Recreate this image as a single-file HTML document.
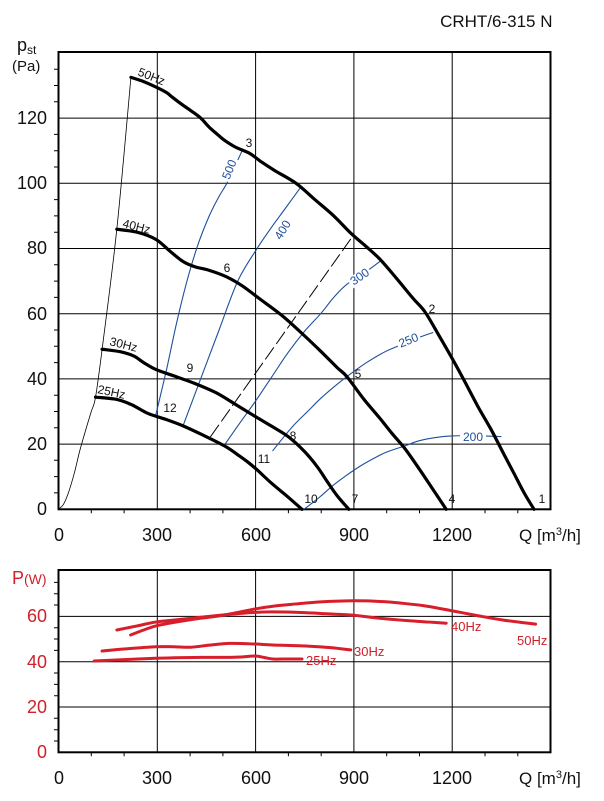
<!DOCTYPE html>
<html><head><meta charset="utf-8"><style>
html,body{margin:0;padding:0;background:#fff;}
svg{display:block;font-family:"Liberation Sans",Arial,sans-serif;}
.c{fill:none;stroke-linejoin:round;stroke-linecap:round;vector-effect:non-scaling-stroke;}
</style></head><body>
<svg id="s" width="604" height="801" viewBox="0 0 604 801" xmlns="http://www.w3.org/2000/svg">
<rect width="604" height="801" fill="#fff"/>
<text x="552.5" y="27" font-size="17" text-anchor="end" fill="#111">CRHT/6-315 N</text>
<text x="17" y="51" font-size="18" fill="#111">p<tspan font-size="12" dy="3">st</tspan></text>
<text x="12" y="71" font-size="15" fill="#111">(Pa)</text>

<g stroke="#000" stroke-width="1">
<line x1="157.3" y1="52" x2="157.3" y2="509.3"/><line x1="255.6" y1="52" x2="255.6" y2="509.3"/>
<line x1="353.9" y1="52" x2="353.9" y2="509.3"/><line x1="452.2" y1="52" x2="452.2" y2="509.3"/>
<line x1="58.5" y1="444.1" x2="550.5" y2="444.1"/><line x1="58.5" y1="378.9" x2="550.5" y2="378.9"/>
<line x1="58.5" y1="313.7" x2="550.5" y2="313.7"/><line x1="58.5" y1="248.5" x2="550.5" y2="248.5"/>
<line x1="58.5" y1="183.3" x2="550.5" y2="183.3"/><line x1="58.5" y1="118.1" x2="550.5" y2="118.1"/>
</g>
<rect x="58.5" y="52" width="492" height="457.3" fill="none" stroke="#000" stroke-width="2"/>
<g stroke="#000" stroke-width="1">
<path d="M54 492.9H58.5M54 476.6H58.5M54 460.3H58.5M54 427.8H58.5M54 411.5H58.5M54 395.2H58.5M54 362.6H58.5M54 346.3H58.5M54 330H58.5M54 297.4H58.5M54 281.1H58.5M54 264.8H58.5M54 232.2H58.5M54 215.9H58.5M54 199.6H58.5M54 167H58.5M54 150.7H58.5M54 134.4H58.5M54 101.8H58.5M54 85.5H58.5M54 69.2H58.5"/>
<path d="M91.3 509.3v4M124.1 509.3v4M190.1 509.3v4M222.9 509.3v4M288.4 509.3v4M321.2 509.3v4M386.7 509.3v4M419.5 509.3v4M485 509.3v4M517.8 509.3v4"/>
</g>
<g font-size="18" fill="#111" text-anchor="end">
<text x="47" y="515">0</text><text x="47" y="450">20</text><text x="47" y="385">40</text><text x="47" y="320">60</text><text x="47" y="254">80</text><text x="47" y="189">100</text><text x="47" y="124">120</text>
</g>
<g font-size="18" fill="#111" text-anchor="middle">
<text x="59" y="541">0</text><text x="157" y="541">300</text><text x="256" y="541">600</text><text x="354" y="541">900</text><text x="452" y="541">1200</text>
</g>
<text x="519" y="541" font-size="17" fill="#111">Q [m<tspan font-size="11" dy="-6">3</tspan><tspan dy="6">/h]</tspan></text>

<g transform="translate(58.5,509.3) scale(0.3277,-3.26)">
<polyline class="c" stroke="#000" stroke-width="0.8" points="0,0 15,1.5 30,5 48,11 65,18 85,25 100,30 113,34.4 133,49 178,86 221,132.5"/>
<polyline class="c" stroke="#000" stroke-width="1" stroke-dasharray="14,5" points="464,22.3 898,83.8"/>
<g stroke="#1f4f9a" stroke-width="1.1">
<polyline class="c" points="297,29 330,43 360,57 392,70 425,81 460,90 490,96 511,99.5 535,104.5 559,109.7"/>
<polyline class="c" points="380,25.6 430,39 490,55 547,70 606,80 650,86.5 690,92 737,98.5"/>
<polyline class="c" points="505,19.5 550,26 600,33 650,40.5 700,48 750,54.5 800,60 840,65 880,69 940,73 987,76.5"/>
<polyline class="c" points="654,18 690,22.5 720,26 760,30 800,34 840,37.5 880,40.7 940,45 1000,48.5 1060,51 1100,52.7 1142,54.2"/>
<polyline class="c" points="749,0 775,2 800,4 840,7.5 880,10.5 920,13.2 960,15.5 1000,17.5 1058,19.5 1100,21 1150,22 1200,22.5 1250,22.6 1300,22.5 1350,22.3"/>
</g>
<g stroke="#000" stroke-width="3.2">
<polyline class="c" points="221,132.5 260,131.2 300,129.4 330,127.8 345,126.6 375,124.3 405,122.2 434,120 460,117.2 485,115 505,113.3 540,111.1 583,109.2 620,106.5 660,103.9 725,100 780,95.2 840,90 892,84.7 940,80.5 981,76.7 1030,71 1082,64.7 1118,60.6 1160,53.5 1200,46.5 1237,39.7 1280,31.5 1320,24.5 1356,17.5 1390,11 1420,5.2 1451,0"/>
<polyline class="c" points="178,85.9 240,85 297,82.8 340,79.2 380,76 416,74.4 460,73.3 511,71.4 560,68.6 612,64.7 680,59.6 737,54.5 800,48.5 850,43.5 880,40.7 930,34 980,28 1020,23 1058,18.5 1100,12.5 1140,6.5 1183,0"/>
<polyline class="c" points="133,49.1 190,48.3 230,47 260,45 297,42.9 350,41 416,38.6 480,35.8 535,32.5 600,28.5 650,25.5 701,22.3 750,17.8 790,13 820,8.5 850,4.2 886,0"/>
<polyline class="c" points="113,34.4 178,33.7 225,32 273,29.4 330,27.5 380,25.6 440,22.8 511,19.2 550,16.5 580,14.3 606,12.1 650,8 700,3.8 743,0"/>
</g>
</g>

<g font-size="12" fill="#111" text-anchor="middle">
<text x="542" y="503">1</text><text x="452" y="503">4</text><text x="355" y="503">7</text><text x="311" y="503">10</text>
<text x="432" y="313">2</text><text x="358" y="378">5</text><text x="293" y="440">8</text><text x="264" y="463">11</text>
<text x="190" y="372">9</text><text x="170" y="412">12</text><text x="249" y="147">3</text><text x="227" y="272">6</text>
</g>
<g font-size="12" fill="#111">
<text transform="translate(137,75) rotate(22)">50Hz</text>
<text transform="translate(122,227) rotate(14)">40Hz</text>
<text transform="translate(109,345) rotate(14)">30Hz</text>
<text transform="translate(97,393) rotate(12)">25Hz</text>
</g>
<g font-size="12" fill="#1f4f9a" text-anchor="middle">
<g transform="translate(233,171) rotate(-68)"><rect x="-12" y="-9" width="24" height="11" fill="#fff"/><text x="0" y="0">500</text></g>
<g transform="translate(286,232) rotate(-58)"><rect x="-12" y="-9" width="24" height="11" fill="#fff"/><text x="0" y="0">400</text></g>
<g transform="translate(362,280) rotate(-35)"><rect x="-12" y="-9" width="24" height="11" fill="#fff"/><text x="0" y="0">300</text></g>
<g transform="translate(410,344) rotate(-22)"><rect x="-12" y="-9" width="24" height="11" fill="#fff"/><text x="0" y="0">250</text></g>
<g transform="translate(473,441)"><rect x="-13" y="-9" width="26" height="11" fill="#fff"/><text x="0" y="0">200</text></g>
</g>

<text x="12" y="584" font-size="18" fill="#d0202a">P<tspan font-size="14">(W)</tspan></text>
<g stroke="#000" stroke-width="1">
<line x1="157.3" y1="570" x2="157.3" y2="752.3"/><line x1="255.6" y1="570" x2="255.6" y2="752.3"/>
<line x1="353.9" y1="570" x2="353.9" y2="752.3"/><line x1="452.2" y1="570" x2="452.2" y2="752.3"/>
<line x1="58.5" y1="707" x2="550.5" y2="707"/><line x1="58.5" y1="661.7" x2="550.5" y2="661.7"/><line x1="58.5" y1="616.4" x2="550.5" y2="616.4"/>
<path d="M54 741H58.5M54 729.7H58.5M54 718.3H58.5M54 695.7H58.5M54 684.4H58.5M54 673H58.5M54 650.4H58.5M54 639H58.5M54 627.7H58.5M54 605H58.5M54 593.8H58.5M54 582.4H58.5"/>
<path d="M91.3 752.3v4M124.1 752.3v4M190.1 752.3v4M222.9 752.3v4M288.4 752.3v4M321.2 752.3v4M386.7 752.3v4M419.5 752.3v4M485 752.3v4M517.8 752.3v4"/>
</g>
<rect x="58.5" y="570" width="492" height="182.3" fill="none" stroke="#000" stroke-width="2"/>
<g font-size="18" fill="#d0202a" text-anchor="end">
<text x="47" y="758">0</text><text x="47" y="713">20</text><text x="47" y="668">40</text><text x="47" y="622">60</text>
</g>
<g font-size="18" fill="#111" text-anchor="middle">
<text x="59" y="784">0</text><text x="157" y="784">300</text><text x="256" y="784">600</text><text x="354" y="784">900</text><text x="452" y="784">1200</text>
</g>
<text x="519" y="784" font-size="17" fill="#111">Q [m<tspan font-size="11" dy="-6">3</tspan><tspan dy="6">/h]</tspan></text>
<g transform="translate(58.5,752.3) scale(0.3277,-2.265)" stroke="#d81e2a" stroke-width="3">
<polyline class="c" points="220,51.8 260,54 297,55.8 350,57.3 420,58.9 480,60 535,61.4 600,63.3 660,64.6 725,65.5 800,66.4 904,66.9 980,66.6 1049,65.8 1120,64.6 1200,62.5 1280,60.3 1360,58.3 1456,56.6"/>
<polyline class="c" points="178,54 240,55.8 297,57.5 380,58.8 452,59.9 530,61 600,61.8 654,62 730,61.8 800,61.3 892,60.6 980,59.2 1060,58.2 1130,57.5 1183,57"/>
<polyline class="c" points="133,44.7 200,45.6 297,46.6 350,46.6 404,46.4 460,47.3 523,48.1 600,47.8 654,47.4 760,46.9 830,46.2 892,45.2"/>
<polyline class="c" points="109,40.3 200,40.9 297,41.5 380,41.8 440,41.9 520,41.9 560,42.1 600,42.5 630,41.8 654,41.2 700,41.2 743,41.2"/>
</g>
<g font-size="13" fill="#d0202a">
<text x="517" y="645">50Hz</text><text x="451" y="631">40Hz</text><text x="354" y="656">30Hz</text><text x="306" y="665">25Hz</text>
</g>
</svg>
<script>
(function(){
var ns="http://www.w3.org/2000/svg";
var pls=document.querySelectorAll("polyline.c");
for(var i=0;i<pls.length;i++){
 var pl=pls[i];
 var nums=pl.getAttribute("points").trim().split(/[\s,]+/).map(Number);
 var p=[];for(var j=0;j<nums.length;j+=2)p.push([nums[j],nums[j+1]]);
 if(p.length<3)continue;
 var d="M"+p[0][0]+" "+p[0][1];
 for(var k=0;k<p.length-1;k++){
  var p0=p[k>0?k-1:k],p1=p[k],p2=p[k+1],p3=p[k+2<p.length?k+2:k+1];
  var c1x=p1[0]+(p2[0]-p0[0])/6,c1y=p1[1]+(p2[1]-p0[1])/6;
  var c2x=p2[0]-(p3[0]-p1[0])/6,c2y=p2[1]-(p3[1]-p1[1])/6;
  d+="C"+c1x+" "+c1y+" "+c2x+" "+c2y+" "+p2[0]+" "+p2[1];
 }
 var path=document.createElementNS(ns,"path");
 for(var a=0;a<pl.attributes.length;a++){var at=pl.attributes[a];if(at.name!=="points")path.setAttribute(at.name,at.value);}
 path.setAttribute("d",d);
 pl.parentNode.replaceChild(path,pl);
}
})();
</script>
</body></html>
